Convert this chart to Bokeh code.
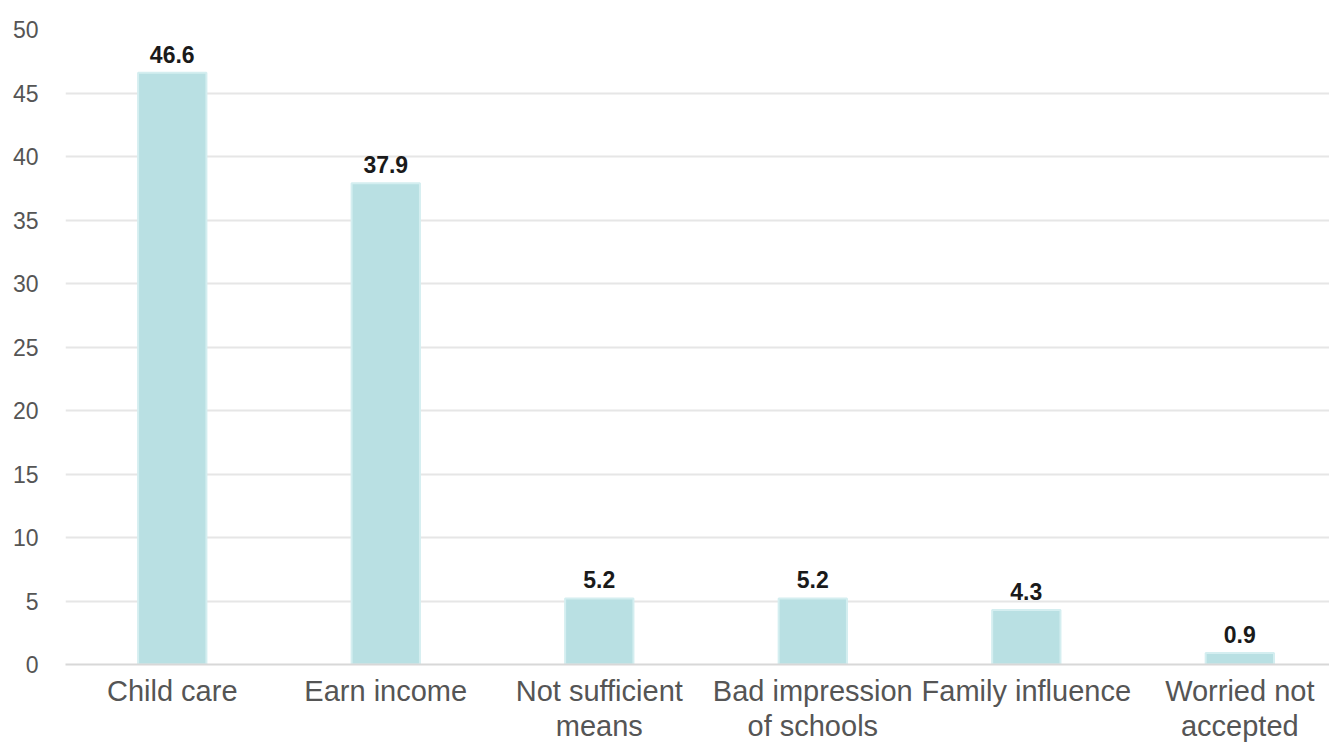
from bokeh.plotting import figure
from bokeh.models import Range1d, FixedTicker, ColumnDataSource, LabelSet
from bokeh.core.properties import value
from bokeh.embed import file_html
from bokeh.resources import INLINE

categories = ["Child care", "Earn income", "Not sufficient\nmeans", "Bad impression\nof schools",
              "Family influence", "Worried not\naccepted"]
values = [46.6, 37.9, 5.2, 5.2, 4.3, 0.9]
y_ticks = [0, 5, 10, 15, 20, 25, 30, 35, 40, 45, 50]

xs = list(range(len(categories)))
src = ColumnDataSource(dict(x=xs, top=values, lab=[f"{v:.1f}" for v in values]))

p = figure(width=1329, height=746, output_backend="svg", toolbar_location=None,
           x_range=Range1d(-0.5, 5.42), y_range=Range1d(0, 50),
           min_border_left=65, min_border_right=0, min_border_top=29, min_border_bottom=82)
p.outline_line_color = None
p.background_fill_color = "white"

p.vbar(x="x", top="top", width=0.32, source=src, fill_color="#b9e0e3",
       line_color="#d4eef0", line_width=2)

labels = LabelSet(x="x", y="top", text="lab", source=src, text_align="center",
                  text_baseline="bottom", y_offset=10, text_font=value("Liberation Sans"),
                  text_font_style="bold", text_font_size="23px", text_color="#1a1a1a")
p.add_layout(labels)

p.xaxis.ticker = FixedTicker(ticks=xs)
p.xaxis.major_label_overrides = {i: c for i, c in enumerate(categories)}
p.xaxis.major_label_text_font = "Liberation Sans"
p.xaxis.major_label_text_font_size = "29px"
p.xaxis.major_label_text_line_height = 1.1
p.xaxis.major_label_text_color = "#555555"
p.xaxis.major_label_standoff = 10
p.xaxis.axis_line_color = "#d8d8d8"
p.xaxis.axis_line_width = 2
p.xaxis.major_tick_line_color = None
p.xaxis.minor_tick_line_color = None
p.xaxis.major_tick_out = 0
p.xaxis.major_tick_in = 0

p.yaxis.ticker = FixedTicker(ticks=y_ticks)
p.yaxis.major_label_text_font = "Liberation Sans"
p.yaxis.major_label_text_font_size = "23px"
p.yaxis.major_label_text_color = "#555555"
p.yaxis.major_label_standoff = 21
p.yaxis.axis_line_color = None
p.yaxis.major_tick_line_color = None
p.yaxis.minor_tick_line_color = None

p.xgrid.grid_line_color = None
p.ygrid.grid_line_color = "#e6e6e6"
p.ygrid.grid_line_width = 2

open("out.html", "w").write(file_html(p, INLINE))
